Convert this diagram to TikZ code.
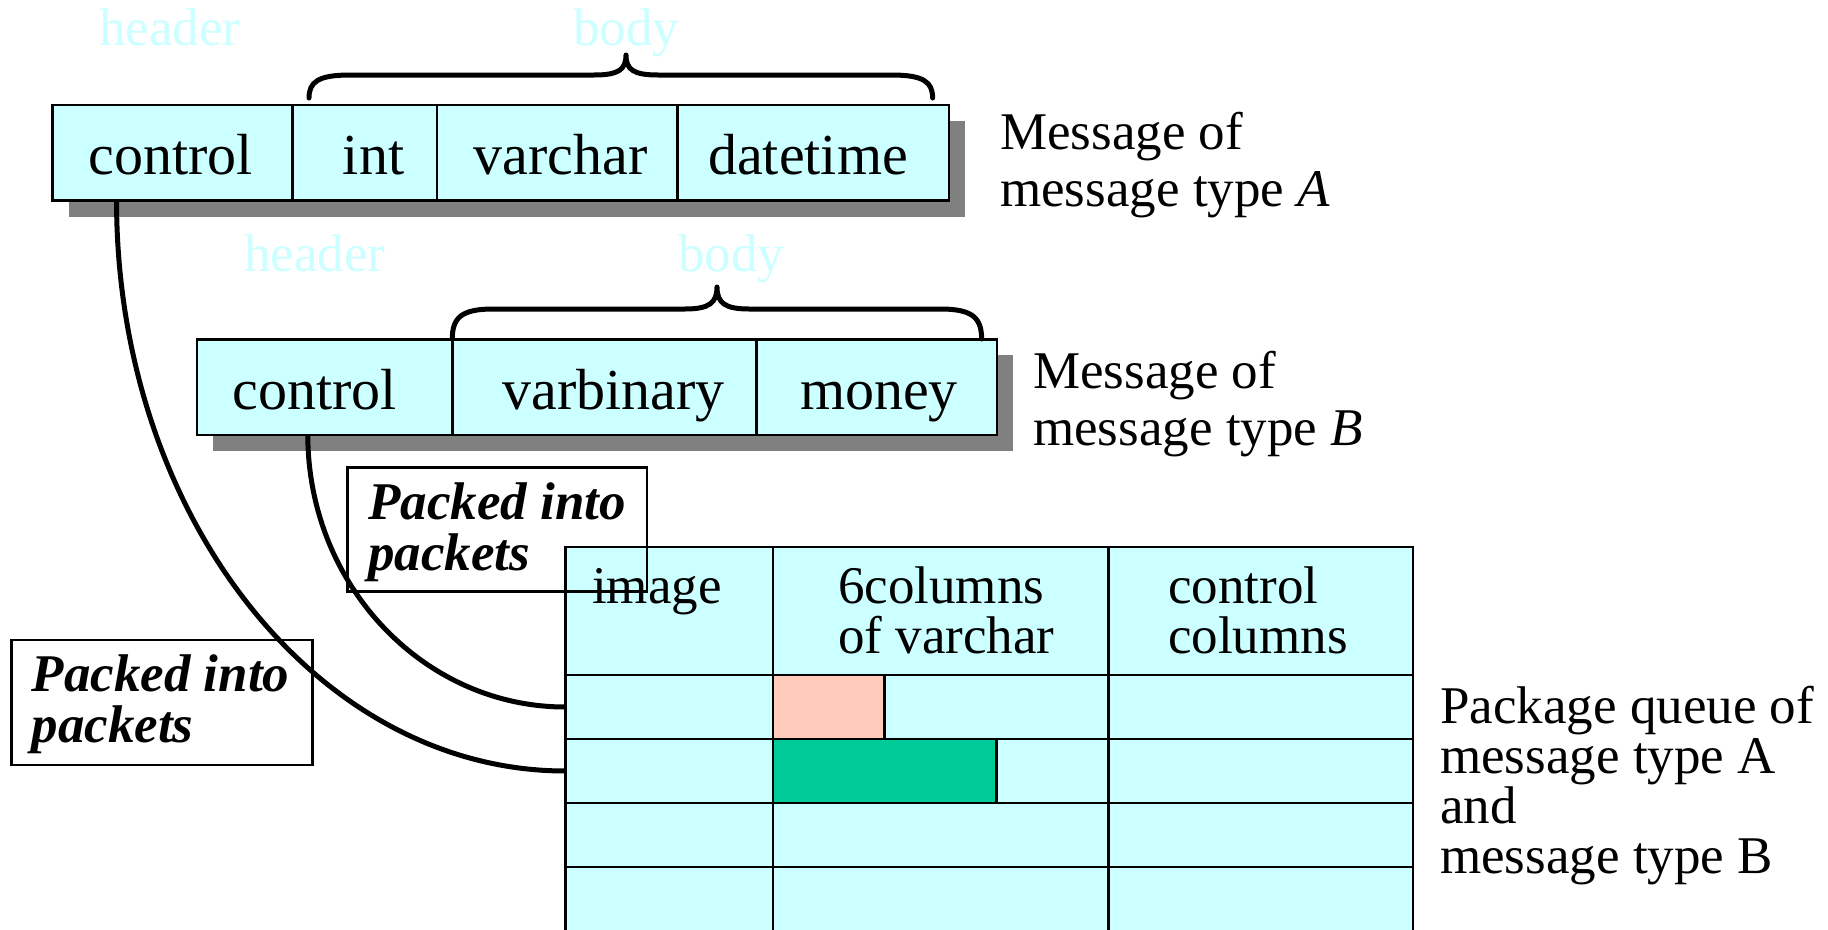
\documentclass[tikz,border=0pt]{standalone}
\usepackage{fontspec}
\setmainfont{Liberation Serif}
\definecolor{cellcyan}{HTML}{CCFFFF}
\definecolor{shade}{HTML}{808080}
\definecolor{salmon}{HTML}{FFCCBB}
\definecolor{mint}{HTML}{00CC99}
\definecolor{ghost}{HTML}{CCFFFF}
\newcommand{\twolines}[2]{\vtop{\hbox{#1}\hbox{#2}}}
\begin{document}
\begin{tikzpicture}[x=1pt,y=-1pt,
  cell/.style={draw=black, line width=2.4pt, fill=cellcyan, inner sep=0pt, outer sep=0pt},
  qcell/.style={draw=black, line width=2.8pt, fill=cellcyan, inner sep=0pt, outer sep=0pt},
  mark cell/.style={draw=black, line width=2.8pt, fill=#1, inner sep=0pt, outer sep=0pt},
  shadowbox/.style={fill=shade, draw=none},
  cellfont/.style={font=\fontsize{58}{60}\selectfont, inner sep=0pt, anchor=base},
  plain/.style={font=\fontsize{53}{57}\selectfont, inner sep=0pt, anchor=base west},
  qtext/.style={font=\fontsize{53}{50}\selectfont, inner sep=0pt, anchor=base west},
  ghostlabel/.style={font=\fontsize{53}{57}\selectfont, text=ghost, inner sep=0pt, anchor=base},
  packbox/.style={draw=black, line width=2.6pt, fill=none},
  packtext/.style={font=\fontsize{53}{51}\selectfont\bfseries\itshape, inner sep=0pt, anchor=base west},
  link/.style={draw=black, line width=5pt},
  brace/.style={draw=black, line width=5pt, line cap=round, line join=round}]
\useasboundingbox (0,0) rectangle (1828,929);

% queue table: header row and four data rows, the last one running off the edge
\foreach \r/\ya/\yb in {0/547/675,1/675/739,2/739/803,3/803/867,4/867/935}
  \foreach \c/\xa/\xb in {0/565.4/773,1/773/1108.7,2/1108.7/1413}
    \node[qcell, minimum width={\xb-\xa}, minimum height={\yb-\ya}]
      (q\r\c) at ({(\xa+\xb)/2},{(\ya+\yb)/2}) {};
\node[mark cell=salmon, minimum width=111.8, minimum height=64] (pink) at (828.9,707) {};
\node[mark cell=mint, minimum width=223.8, minimum height=64] (green) at (884.9,771) {};

% column captions of the queue
\node[qtext] (qimg) at (592,603) {image};
\node[qtext] (qvar) at (838,603) {\twolines{6columns}{of varchar}};
\node[qtext] (qctl) at (1168,603) {\twolines{control}{columns}};
\node[qtext] (qcap) at (1440,723) {\vtop{\hbox{Package queue of}\hbox{message type A}\hbox{and}\hbox{message type B}}};

% drop shadows of the two message records
\fill[shadowbox] (68.5,121) rectangle (965,216.5);
\fill[shadowbox] (213,355.3) rectangle (1012.8,450.8);

% message A fields
\node[cell, minimum width=240.1, minimum height=95.5] (aC) at (172.55,152.75) {};
\node[cell, minimum width=144.6, minimum height=95.5] (aI) at (364.9,152.75) {};
\node[cell, minimum width=240.1, minimum height=95.5] (aV) at (557.25,152.75) {};
\node[cell, minimum width=271.7, minimum height=95.5] (aD) at (813.15,152.75) {};

% message B fields
\node[cell, minimum width=255.3, minimum height=95.5] (bC) at (324.65,387.05) {};
\node[cell, minimum width=304.3, minimum height=95.5] (bV) at (604.45,387.05) {};
\node[cell, minimum width=240.2, minimum height=95.5] (bM) at (876.7,387.05) {};

% connectors from the control fields down into the queue rows
\coordinate (aStart) at ([xshift=-56]aC.south);
\coordinate (bStart) at ([xshift=-16.85]bC.south);
\draw[link] (aStart) .. controls +(0,315) and +(-248,0) .. (q20.west);
\draw[link] (bStart) .. controls +(0,150) and +(-142,0) .. (q10.west);

% field names
\node[cellfont] (tAC) at (170.8,174) {control};
\node[cellfont] (tAI) at (373.6,174) {int};
\node[cellfont] (tAV) at (560.8,174) {varchar};
\node[cellfont] (tAD) at (808,174) {datetime};
\node[cellfont] (tBC) at (314.8,409) {control};
\node[cellfont] (tBV) at (613.8,409) {varbinary};
\node[cellfont] (tBM) at (879,409) {money};

% braces over the message bodies
\draw[brace] (309,98) .. controls (309,82) and (318,75) .. (350,75) -- (594,75)
  .. controls (618,75) and (626,70) .. (626,55)
  .. controls (626,70) and (634,75) .. (658,75) -- (891.6,75)
  .. controls (923.6,75) and (932.6,82) .. (932.6,98);
\draw[brace] (452.3,339) .. controls (452.3,318) and (461,309) .. (493,309) -- (685,309)
  .. controls (709,309) and (717,303) .. (717,287)
  .. controls (717,303) and (725,309) .. (749,309) -- (940.6,309)
  .. controls (972.6,309) and (981.6,318) .. (981.6,339);

% faint header/body labels
\node[ghostlabel] (hA) at (170,45) {header};
\node[ghostlabel] (dA) at (626,45) {body};
\node[ghostlabel] (hB) at (315,271.7) {header};
\node[ghostlabel] (dB) at (731,271.7) {body};

% message captions
\node[plain] (capA) at (1000,149) {\twolines{Message of}{message type \textit{A}}};
\node[plain] (capB) at (1033,388) {\twolines{Message of}{message type \textit{B}}};

% "Packed into packets" notes
\node[packbox, minimum width=299.6, minimum height=124, inner sep=0pt] (packB) at (497.2,529.5) {};
\node[packtext] (packBt) at (368,519) {\twolines{Packed into}{packets}};
\node[packbox, minimum width=300.7, minimum height=124.8, inner sep=0pt] (packA) at (162.05,702.4) {};
\node[packtext] (packAt) at (31.5,691) {\twolines{Packed into}{packets}};
\end{tikzpicture}
\end{document}
